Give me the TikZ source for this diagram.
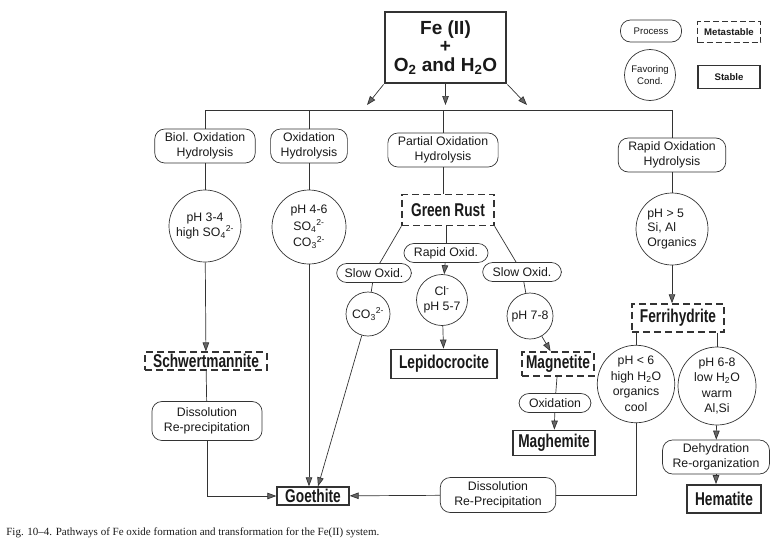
\documentclass[tikz,border=0pt]{standalone}
\usepackage{fontspec}
\setmainfont{Liberation Sans}
\newfontfamily\capfont[Ligatures=TeX]{Liberation Serif}
\newfontfamily\minfont[FakeStretch=0.74]{Liberation Sans}
\usetikzlibrary{arrows.meta}

\newcommand\procfont{\fontsize{12.3}{14.5}\selectfont}
\newcommand\minsize{\minfont\bfseries\fontsize{18.5}{20}\selectfont}

\begin{document}
\begin{tikzpicture}[x=1pt, y=-1pt, line width=0.7pt, draw=black!80,
    every node/.style={text=black!90, align=center, font=\procfont},
    process/.style={draw, rounded corners=10pt, inner xsep=10pt, inner ysep=3pt, minimum height=19pt},
    cond/.style={draw, circle, inner sep=1pt},
    meta/.style={draw, dash pattern=on 7pt off 4pt, line width=1.5pt, font=\minsize, inner xsep=8pt, inner ysep=2pt},
    stable/.style={draw, line width=1.8pt, font=\minsize, inner xsep=8pt, inner ysep=2pt},
    arr/.style={-{Triangle[length=9pt, width=6.5pt, fill=black!60]}}]
    \useasboundingbox (0,0) rectangle (775,541);

    % legend
    \node[process, font=\fontsize{9.6}{11}\selectfont, minimum width=61pt, minimum height=22pt] (lgproc) at (651,31) {Process};
    \node[cond, font=\fontsize{9.6}{11.5}\selectfont, minimum size=51pt] (lgcond) at (650,75) {Favoring\\Cond.};
    \node[draw, dash pattern=on 6pt off 3pt, line width=1.3pt, font=\bfseries\fontsize{9.6}{11}\selectfont, minimum width=63pt, minimum height=21pt] (lgmeta) at (729,32) {Metastable};
    \node[draw, line width=1.2pt, font=\bfseries\fontsize{9.6}{11}\selectfont, minimum width=62pt, minimum height=23pt] (lgstab) at (729,77) {Stable};

    % start
    \node[draw, line width=2.8pt, font=\bfseries\fontsize{19}{18.5}\selectfont, minimum width=121pt, minimum height=71pt, inner sep=0pt] (fe) at (445.5,47.5) {Fe (II)\\+\\O\textsubscript{2} and H\textsubscript{2}O};
    \coordinate (tipL) at (367,105);
    \coordinate (tipM) at (445.5,105);
    \coordinate (tipR) at (527,105);
    \draw[arr] (fe.south west) -- (tipL);
    \draw[arr] (fe.south) -- (tipM);
    \draw[arr] (fe.south east) -- (tipR);
    \coordinate (busL) at (205,110);
    \coordinate (busR) at (672,110);
    \draw (busL) -- (busR);

    % processes from the bus
    \node[process, minimum height=34pt] (biol) at (205,146) {Biol. Oxidation\\Hydrolysis};
    \node[process, minimum height=34pt] (oxhyd) at (309,146) {Oxidation\\Hydrolysis};
    \node[process, minimum height=34pt] (parhyd) at (443,150) {Partial Oxidation\\Hydrolysis};
    \node[process, minimum height=34pt] (rapidhyd) at (672,155) {Rapid Oxidation\\Hydrolysis};
    \draw (busL) -- (biol);
    \draw (oxhyd.north |- busL) -- (oxhyd);
    \draw (parhyd.north |- busL) -- (parhyd);
    \draw (busR) -- (rapidhyd);

    % left branch
    \node[cond, minimum size=72pt] (ph34) at (205,226) {pH 3-4\\high SO\textsubscript{4}\textsuperscript{2-}};
    \node[meta] (schwert) at (206,361) {Schwertmannite};
    \node[process, minimum height=39pt, inner xsep=12pt] (dissL) at (207,421) {Dissolution\\Re-precipitation};
    \node[stable] (goethite) at (313,496) {Goethite};
    \draw (biol) -- (ph34);
    \draw[arr] (ph34) -- (schwert);
    \draw (schwert) -- (dissL);
    \draw[arr] (dissL.south) |- (goethite.west);

    \node[cond, minimum size=74pt, font=\fontsize{12.3}{16.5}\selectfont] (ph46) at (309,227) {pH 4-6\\SO\textsubscript{4}\textsuperscript{2-}\\CO\textsubscript{3}\textsuperscript{2-}};
    \draw (oxhyd) -- (ph46);
    \draw[arr] (ph46.south) -- (ph46.south |- goethite.north);

    % green rust branch
    \node[meta, minimum height=31pt, inner xsep=9pt] (greenrust) at (448,210) {Green Rust};
    \node[process] (rapidox) at (446,253) {Rapid Oxid.};
    \node[process, inner xsep=8pt] (slowL) at (374,273) {Slow Oxid.};
    \node[process] (slowR) at (522,272) {Slow Oxid.};
    \node[cond, minimum size=44pt] (co3) at (368,314) {CO\textsubscript{3}\textsuperscript{2-}};
    \node[cond, minimum size=51pt] (cl) at (442,300) {Cl\textsuperscript{-}\\pH 5-7};
    \node[cond, minimum size=46pt] (ph78) at (530,316) {pH 7-8};
    \node[stable, minimum height=29pt] (lepido) at (444,364) {Lepidocrocite};
    \node[meta, minimum height=24pt, inner xsep=4pt] (magnetite) at (558,364) {Magnetite};
    \node[process] (oxmag) at (555,403) {Oxidation};
    \node[stable, minimum height=25pt, inner xsep=5pt] (maghemite) at (554,443) {Maghemite};
    \draw (parhyd.south) -- (parhyd.south |- greenrust.north);
    \draw (rapidox.north |- greenrust.south) -- (rapidox);
    \draw[arr] (rapidox) -- (cl);
    \draw[arr] (cl) -- (lepido);
    \draw (greenrust.south west) -- (slowL);
    \draw (slowL) -- (co3);
    \draw[arr] (co3) -- ([xshift=5pt]goethite.north);
    \draw (greenrust.south east) -- (slowR);
    \draw (slowR) -- (ph78);
    \draw[arr] (ph78) -- (magnetite);
    \draw (magnetite) -- (oxmag);
    \draw[arr] (oxmag) -- (maghemite);

    % ferrihydrite branch
    \node[cond, minimum size=72pt, align=left] (ph5) at (672,229) {pH > 5\\Si, Al\\Organics};
    \node[meta, minimum height=28pt] (ferri) at (678,318) {Ferrihydrite};
    \node[cond, minimum size=76pt, font=\fontsize{12.3}{15.5}\selectfont] (phlow) at (636,384) {pH < 6\\high H\textsubscript{2}O\\organics\\cool};
    \node[cond, minimum size=78pt, font=\fontsize{12.3}{15.5}\selectfont] (phmid) at (717,386) {pH 6-8\\low H\textsubscript{2}O\\warm\\Al,Si};
    \node[process, minimum height=34pt] (dehyd) at (716,457) {Dehydration\\Re-organization};
    \node[stable, minimum height=28pt] (hematite) at (724,499) {Hematite};
    \node[process, minimum height=35pt, inner xsep=14pt] (dissB) at (498,495) {Dissolution\\Re-Precipitation};
    \draw (rapidhyd) -- (ph5);
    \draw[arr] (ph5.south) -- (ph5.south |- ferri.north);
    \draw (phlow) -- (phlow |- ferri.south);
    \draw (phmid) -- (phmid |- ferri.south);
    \draw[arr] (phmid) -- (dehyd);
    \draw[arr] (dehyd.south) -- (dehyd.south |- hematite.north);
    \draw (phlow.south) |- (dissB.east);
    \draw[arr] (dissB) -- (goethite);

    % caption
    \node[font=\capfont\fontsize{11}{13}\selectfont, anchor=base west, inner sep=0pt] (caption) at (6,535) {Fig. 10–4. Pathways of Fe oxide formation and transformation for the Fe(II) system.};
\end{tikzpicture}
\end{document}
